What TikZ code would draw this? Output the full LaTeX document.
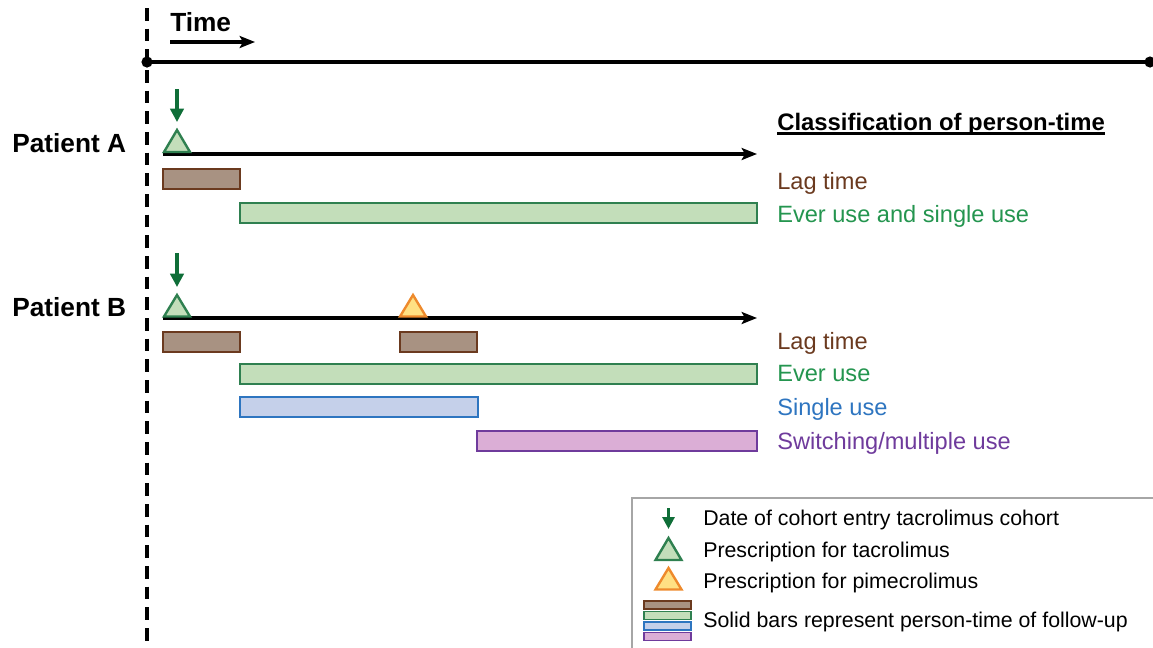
\documentclass[tikz,border=0pt]{standalone}
\usepackage{fontspec}
\setmainfont{Liberation Sans}
\usetikzlibrary{arrows.meta}
\definecolor{lagline}{HTML}{6B3A1F}
\definecolor{lagfill}{HTML}{A89282}
\definecolor{everline}{HTML}{2F8050}
\definecolor{everfill}{HTML}{C3DEBA}
\definecolor{evertext}{HTML}{24954F}
\definecolor{singleline}{HTML}{2E75C0}
\definecolor{singlefill}{HTML}{C5D0EA}
\definecolor{switchline}{HTML}{6F3B9C}
\definecolor{switchfill}{HTML}{DBAED6}
\definecolor{pimeline}{HTML}{EE8A2C}
\definecolor{pimefill}{HTML}{FFE083}
\definecolor{entrygreen}{HTML}{0F6E38}

\begin{document}
\begin{tikzpicture}[x=0.75pt,y=-0.75pt,
  lagbar/.style={draw=lagline,fill=lagfill,line width=1.5pt},
  everbar/.style={draw=everline,fill=everfill,line width=1.5pt},
  singlebar/.style={draw=singleline,fill=singlefill,line width=1.5pt},
  switchbar/.style={draw=switchline,fill=switchfill,line width=1.5pt},
  tacro/.style={draw=everline,fill=everfill,line width=1.8pt,line join=miter},
  pime/.style={draw=pimeline,fill=pimefill,line width=1.8pt,line join=miter},
  entry/.style={draw=entrygreen,line width=2.4pt,-{Triangle[length=10pt,width=10pt]}},
  follow/.style={line width=2.5pt,-{Stealth[length=11.5pt,width=9pt,inset=2.5pt]}},
  patient/.style={font=\fontsize{19.7}{23}\selectfont\bfseries,anchor=base west},
  cls/.style={font=\fontsize{17.7}{21}\selectfont,anchor=base west},
  legtext/.style={font=\fontsize{16}{19}\selectfont,anchor=base west}]
\tikzstyle{every node}+=[inner sep=0pt]
\useasboundingbox (0,0) rectangle (1153,647);
\clip (0,0) rectangle (1153,647);

% time axis
\draw [line width=2.4pt,dash pattern=on 9.5pt off 6pt] (147,8) -- (147,647);
\coordinate (origin) at (147,62);
\coordinate (horizon) at (1150,62);
\draw [line width=2.5pt] (origin) -- (horizon);
\fill (origin) circle (4.2pt);
\fill (horizon) circle (4.2pt);
\node [patient] (time) at (170,31.5) {Time};
\coordinate (t0) at (170,42);
\coordinate (t1) at (255,42);
\draw [follow] (t0) -- (t1);

% patient A
\node [patient] (patA) at (12,152) {Patient A};
\coordinate (a0) at (163,154);
\coordinate (a1) at (757,154);
\draw [follow] (a0) -- (a1);
\coordinate (entA) at (177,89);
\coordinate (tacA) at (177,130);
\draw [entry,shorten >=6pt] (entA) -- (tacA);
\draw [tacro] (tacA) -- ++(-13,22) -- ++(26,0) -- cycle;
\draw [lagbar] (163,169) rectangle (240,189);
\draw [everbar] (240,203) rectangle (757,223);
\node [cls,font=\fontsize{17.9}{21}\selectfont\bfseries] (clsHead) at (777,130.5) {Classification of person-time};
\draw [line width=1.6pt] ([yshift=-2.2pt]clsHead.base west) -- ([yshift=-2.2pt]clsHead.base east);
\node [cls,text=lagline] (lagA) at (777,189) {Lag time};
\node [cls,text=evertext] (everA) at (777,222) {Ever use and single use};

% patient B
\node [patient] (patB) at (12,316) {Patient B};
\coordinate (b0) at (163,318);
\coordinate (b1) at (757,318);
\draw [follow] (b0) -- (b1);
\coordinate (entB) at (177,253);
\coordinate (tacB) at (177,295);
\draw [entry,shorten >=6pt] (entB) -- (tacB);
\draw [tacro] (tacB) -- ++(-13,21.5) -- ++(26,0) -- cycle;
\coordinate (pimB) at (413,295);
\draw [pime] (pimB) -- ++(-13,21.5) -- ++(26,0) -- cycle;
\draw [lagbar] (163,332) rectangle (240,352);
\draw [lagbar] (400,332) rectangle (477,352);
\draw [everbar] (240,364) rectangle (757,384);
\draw [singlebar] (240,397) rectangle (478,417);
\draw [switchbar] (477,431) rectangle (757,451);
\node [cls,text=lagline] (lagB) at (777,349.5) {Lag time};
\node [cls,text=evertext] (everB) at (777,381.5) {Ever use};
\node [cls,text=singleline] (singleB) at (777,415) {Single use};
\node [cls,text=switchline] (switchB) at (777,449) {Switching/multiple use};

% legend
\draw [draw=black!35,line width=1pt] (632,498) rectangle (1165,660);
\coordinate (entL) at (668.5,508);
\coordinate (entLtip) at (668.5,529);
\draw [entry,line width=2.2pt,-{Triangle[length=9pt,width=9pt]}] (entL) -- (entLtip);
\node [legtext] (legEntry) at (703,525) {Date of cohort entry tacrolimus cohort};
\coordinate (tacL) at (668.5,538);
\draw [tacro] (tacL) -- ++(-13,22) -- ++(26,0) -- cycle;
\node [legtext] (legTac) at (703,557.5) {Prescription for tacrolimus};
\coordinate (pimL) at (668.5,568);
\draw [pime] (pimL) -- ++(-13,21.5) -- ++(26,0) -- cycle;
\node [legtext] (legPime) at (703,588) {Prescription for pimecrolimus};
\draw [lagbar,line width=1.1pt] (644,601) rectangle (691,609);
\draw [everbar,line width=1.1pt] (644,611.5) rectangle (691,619.5);
\draw [singlebar,line width=1.1pt] (644,622) rectangle (691,630);
\draw [switchbar,line width=1.1pt] (644,632.5) rectangle (691,640.5);
\node [legtext] (legBars) at (703,627) {Solid bars represent person-time of follow-up};
\end{tikzpicture}
\end{document}
